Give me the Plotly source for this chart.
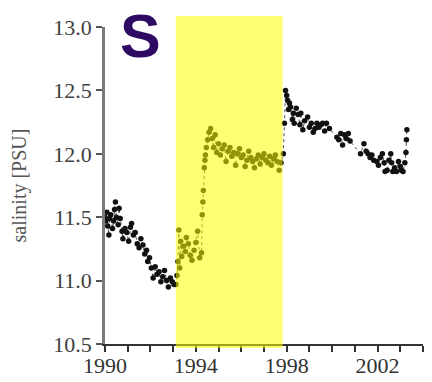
import plotly.graph_objects as go

# Monthly-ish salinity samples (decimal year, PSU)
years_a = [1990.00, 1990.04, 1990.08, 1990.12, 1990.17, 1990.21, 1990.25, 1990.33, 1990.38, 1990.42,
           1990.46, 1990.50, 1990.58, 1990.62, 1990.67, 1990.75, 1990.79, 1990.88, 1990.96, 1991.04,
           1991.12, 1991.17, 1991.25, 1991.33, 1991.42, 1991.50, 1991.58, 1991.67, 1991.75, 1991.83,
           1991.88, 1991.96, 1992.04, 1992.12, 1992.21, 1992.29, 1992.38, 1992.46, 1992.54, 1992.62,
           1992.71, 1992.79, 1992.88, 1992.96, 1993.04]
sal_a = [11.50, 11.47, 11.54, 11.43, 11.36, 11.49, 11.52, 11.41, 11.47, 11.56,
         11.62, 11.50, 11.44, 11.57, 11.49, 11.39, 11.33, 11.41, 11.38, 11.31,
         11.42, 11.45, 11.36, 11.38, 11.29, 11.26, 11.33, 11.28, 11.21, 11.24,
         11.15, 11.18, 11.10, 11.02, 11.11, 11.05, 11.07, 10.99, 11.03, 11.08,
         11.00, 10.95, 11.02, 10.99, 10.97]

years_b = [1993.12, 1993.17, 1993.21, 1993.25, 1993.29, 1993.33, 1993.38, 1993.46, 1993.54, 1993.58,
           1993.67, 1993.75, 1993.83, 1993.92, 1994.00, 1994.08, 1994.17, 1994.25, 1994.28, 1994.31,
           1994.33, 1994.37, 1994.40, 1994.42, 1994.46, 1994.52, 1994.58, 1994.65, 1994.72, 1994.78,
           1994.85, 1994.92, 1995.00, 1995.08, 1995.17, 1995.25, 1995.33, 1995.42, 1995.50, 1995.58,
           1995.67, 1995.75, 1995.83, 1995.92, 1996.00, 1996.08, 1996.17, 1996.25, 1996.33, 1996.42,
           1996.50, 1996.58, 1996.67, 1996.75, 1996.83, 1996.92, 1997.00, 1997.08, 1997.17, 1997.25,
           1997.33, 1997.42, 1997.50, 1997.58, 1997.67, 1997.75]
sal_b = [10.97, 11.04, 11.15, 11.40, 11.10, 11.31, 11.19, 11.27, 11.23, 11.34,
         11.29, 11.20, 11.16, 11.24, 11.30, 11.39, 11.18, 11.22, 11.52, 11.62,
         11.71, 11.89, 11.95, 11.99, 12.05, 12.11, 12.17, 12.20, 12.12, 12.05,
         12.15, 12.01, 12.08, 11.99, 12.04, 12.07, 11.94, 12.02, 12.05, 11.98,
         12.01, 11.91, 12.00, 12.04, 11.97, 11.99, 11.90, 11.95, 12.02, 11.97,
         11.94, 11.89, 11.96, 11.99, 11.92, 11.97, 12.00, 11.95, 11.93, 11.98,
         11.91, 11.96, 11.99, 11.94, 11.87, 11.93]

years_c = [1997.85, 1997.90, 1997.95, 1998.00, 1998.04, 1998.08, 1998.12, 1998.17, 1998.25, 1998.29,
           1998.33, 1998.42, 1998.50, 1998.58, 1998.62, 1998.71, 1998.79, 1998.92, 1999.00, 1999.08,
           1999.17, 1999.25, 1999.33, 1999.42, 1999.50, 1999.58, 1999.67, 1999.75, 1999.88, 2000.21,
           2000.29, 2000.38, 2000.46, 2000.54, 2000.62, 2000.71, 2000.79, 2001.25, 2001.40, 2001.50,
           2001.58, 2001.67, 2001.75, 2001.83, 2001.96, 2002.04, 2002.12, 2002.21, 2002.29, 2002.33,
           2002.42, 2002.50, 2002.58, 2002.62, 2002.67, 2002.75, 2002.83, 2002.92, 2003.00, 2003.04,
           2003.12, 2003.20, 2003.25, 2003.27, 2003.29]
sal_c = [12.00, 12.24, 12.50, 12.46, 12.42, 12.35, 12.40, 12.37, 12.27, 12.32,
         12.24, 12.36, 12.31, 12.23, 12.32, 12.19, 12.26, 12.29, 12.21, 12.24,
         12.17, 12.20, 12.24, 12.21, 12.23, 12.24, 12.18, 12.24, 12.20, 12.13,
         12.11, 12.16, 12.07, 12.15, 12.12, 12.16, 12.10, 12.00, 12.08, 12.02,
         12.00, 11.97, 11.99, 11.95, 11.94, 11.91, 11.97, 12.00, 11.93, 11.86,
         11.87, 11.95, 12.00, 11.93, 11.86, 11.89, 11.86, 11.94, 11.90, 11.87,
         11.86, 11.93, 12.01, 12.11, 12.19]

years = years_a + years_b + years_c
salinity = sal_a + sal_b + sal_c

# Highlighted period
band_start, band_end = 1993.12, 1997.82

tick_years = list(range(1990, 2005))
tick_labels = ["1990", "", "", "", "1994", "", "", "", "1998", "", "", "", "2002", "", ""]
y_ticks = [10.5, 11.0, 11.5, 12.0, 12.5, 13.0]
y_labels = ["10.5", "11.0", "11.5", "12.0", "12.5", "13.0"]

serif = "Liberation Serif, Times New Roman, serif"

fig = go.Figure()
fig.add_trace(go.Scatter(
    x=years, y=salinity, mode="lines+markers",
    line=dict(color="#222222", width=0.8, dash="dot"),
    marker=dict(color="#111111", size=5.5, line=dict(width=0)),
    showlegend=False, cliponaxis=False,
))

fig.add_shape(type="rect", xref="x", yref="paper",
              x0=band_start, x1=band_end, y0=-0.013, y1=1.035,
              fillcolor="rgba(255,255,0,0.55)", line=dict(width=0), layer="above")

fig.add_annotation(text="<b>S</b>", xref="paper", yref="paper", x=0.113, y=0.972,
                   xanchor="center", yanchor="middle", showarrow=False,
                   font=dict(family="Arial, Liberation Sans, sans-serif", size=61, color="#2E0A62"))

fig.update_layout(
    width=432, height=382,
    margin=dict(l=105, r=9, t=27, b=38, autoexpand=False),
    paper_bgcolor="white", plot_bgcolor="white",
    xaxis=dict(range=[1990, 2004], tickvals=tick_years, ticktext=tick_labels, automargin=False,
               showgrid=False, zeroline=False, showline=True, linecolor="#333333", linewidth=2,
               ticks="outside", ticklen=6, tickwidth=1.5, tickcolor="#333333",
               ticklabelstandoff=-5,
               tickfont=dict(family=serif, size=22, color="#333333")),
    yaxis=dict(range=[10.5, 13.0], tickvals=y_ticks, ticktext=y_labels, automargin=False,
               showgrid=False, zeroline=False, showline=True, linecolor="#7a7a7a", linewidth=2.5,
               ticks="outside", ticklen=6, tickwidth=1.5, tickcolor="#555555",
               tickfont=dict(family=serif, size=22, color="#404040"),
               title=dict(text="salinity [PSU]", font=dict(family=serif, size=20, color="#555555"),
                          standoff=22)),
)

fig.write_html("out.html")
